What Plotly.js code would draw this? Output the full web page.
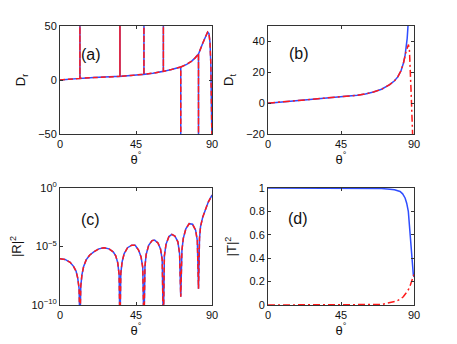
<!DOCTYPE html>
<html>
<head>
<meta charset="utf-8">
<script src="https://cdn.plot.ly/plotly-3.0.1.min.js"></script>
<style>
  html, body { margin: 0; padding: 0; background: #fff; }
  #chart { width: 457px; height: 344px; }
</style>
</head>
<body>
<div id="chart"></div>
<script>
// (a) reflected delay D_r, with resonance spikes running off the axis
const thetaA = [0, 5, 11.8, 11.8, 11.8, 20, 30, 35.5, 35.5, 35.5, 42, 49.7, 49.7, 49.7, 55, 61.2, 61.2, 61.2,
  66, 71.5, 71.5, 71.5, 75, 78, 80, 82, 82, 82, 84.5, 86.5, 87.4, 88.2, 88.8, 89.3, 89.7, 90];
const drA = [0, 0.6, 1.5, 90, 1.5, 2.2, 3, 3.4, 90, 3.4, 4.2, 5.3, 90, 5.3, 6.3, 8, 90, 8,
  9.7, 12, -90, 12, 14.5, 17.5, 20.5, 24, -90, 24, 34, 41.5, 44.4, 43, 35, 15, -20, -60];

// (b) transmitted delay D_t
const thetaB = [0, 10, 20, 30, 40, 45, 50, 55, 60, 65, 70, 75, 78, 80, 82, 83.5, 84.5, 85.2, 85.8, 86.3, 86.6];
const dtB = [0, 0.9, 1.8, 2.6, 3.4, 3.8, 4.4, 5.1, 6, 7.2, 9, 12, 14.5, 17, 21, 26, 31, 36, 42, 50, 56];
const thetaB2 = [0, 10, 20, 30, 40, 45, 50, 55, 60, 65, 70, 75, 78, 80, 82, 83.5, 85, 86, 86.6, 87.2, 87.8, 88.3, 88.8, 89.2];
const dtB2 = [0, 0.9, 1.8, 2.6, 3.4, 3.8, 4.4, 5.1, 6, 7.2, 9, 12, 14.5, 17, 21, 26, 33, 37, 38, 34, 22, 5, -10, -22];

// (c) reflectance |R|^2 (log scale)
const thetaC = [0, 3, 6, 8, 9.5, 10.5, 11.3, 11.8, 12.3, 13, 14, 15.5, 17.5, 20, 23, 26, 29, 31.5, 33, 34.2, 35, 35.5,
  36, 36.8, 38, 40, 42.5, 44.5, 46.5, 48, 49, 49.7, 50.3, 51, 52.5, 54.5, 56, 58, 59.5, 60.5, 61.2,
  61.8, 62.8, 64.5, 66.2, 68, 69.8, 70.8, 71.5, 72.2, 73, 74.5, 76.5, 78.5, 80.3, 81.3, 82,
  82.6, 83.2, 84.5, 86, 87.8, 90];
const rC = [8.9e-7, 7.9e-7, 4.5e-7, 2.0e-7, 7.9e-8, 2.0e-8, 2.5e-9, 1e-12, 4.0e-9, 4.0e-8, 2.0e-7, 7.1e-7, 1.8e-6, 3.5e-6, 6.3e-6, 7.9e-6, 6.3e-6, 3.5e-6, 1.6e-6, 4.0e-7, 4.0e-8, 1e-12,
  5.0e-8, 5.0e-7, 2.5e-6, 7.9e-6, 1.3e-5, 1.26e-5, 5.0e-6, 1.26e-6, 1.6e-7, 1e-12, 2.0e-7, 2.0e-6, 1.26e-5, 3.2e-5, 3.5e-5, 2.0e-5, 6.3e-6, 7.9e-7, 1e-12,
  1.6e-6, 1.6e-5, 7.1e-5, 1.07e-4, 7.9e-5, 2.5e-5, 2.5e-6, 5.0e-10, 5.0e-6, 5.0e-5, 3.2e-4, 8.9e-4, 7.9e-4, 2.5e-4, 3.2e-5, 2.5e-9,
  5.0e-5, 5.0e-4, 3.2e-3, 1.26e-2, 6.3e-2, 0.25];

// (d) transmittance |T|^2
const thetaD = [0, 30, 60, 70, 75.2, 78, 81.4, 83, 84.5, 85.5, 86.5, 87.5, 88.2, 89, 89.6, 90];
const tD = [1, 1, 0.998, 0.995, 0.99, 0.985, 0.97, 0.95, 0.915, 0.87, 0.8, 0.6, 0.455, 0.31, 0.255, 0.24];
const thetaD2 = [0, 30, 60, 70, 73.1, 76, 79.3, 81.5, 83.4, 85, 86.5, 87.6, 88.6, 89.6, 90];
const tD2 = [0, 0, 0, 0.004, 0.014, 0.022, 0.034, 0.05, 0.07, 0.1, 0.13, 0.165, 0.2, 0.245, 0.26];

const blue = '#2f4dff';
const red = '#ff1a1a';
const dashed = '5px,3px';
const dashdot = '7px,3px,2px,3px';
const fontFam = 'Liberation Sans, Arial, sans-serif';

const traces = [
  { x: thetaA, y: drA, xaxis: 'x', yaxis: 'y', mode: 'lines', line: { color: blue, width: 1.5 } },
  { x: thetaA, y: drA, xaxis: 'x', yaxis: 'y', mode: 'lines', line: { color: red, width: 1.5, dash: dashed } },
  { x: thetaB, y: dtB, xaxis: 'x2', yaxis: 'y2', mode: 'lines', line: { color: blue, width: 1.5 } },
  { x: thetaB2, y: dtB2, xaxis: 'x2', yaxis: 'y2', mode: 'lines', line: { color: red, width: 1.5, dash: dashdot } },
  { x: thetaC, y: rC, xaxis: 'x3', yaxis: 'y3', mode: 'lines', line: { color: blue, width: 1.5 } },
  { x: thetaC, y: rC, xaxis: 'x3', yaxis: 'y3', mode: 'lines', line: { color: red, width: 1.5, dash: dashed } },
  { x: thetaD, y: tD, xaxis: 'x4', yaxis: 'y4', mode: 'lines', line: { color: blue, width: 1.5 } },
  { x: thetaD2, y: tD2, xaxis: 'x4', yaxis: 'y4', mode: 'lines', line: { color: red, width: 1.5, dash: dashdot } }
];

function xAx(domain, anchor) {
  return {
    domain: domain, anchor: anchor, range: [0, 90], tickvals: [0, 45, 90],
    showgrid: false, zeroline: false, showline: true, mirror: 'allticks',
    linecolor: '#333', linewidth: 1, ticks: 'inside', ticklen: 3, tickcolor: '#333',
    tickfont: { size: 11, color: '#111' },
    title: { text: 'θ<sup>°</sup>', font: { size: 13, color: '#111' }, standoff: 5 }
  };
}
function yAx(domain, anchor, range, ticks, label) {
  return {
    domain: domain, anchor: anchor, range: range, tickvals: ticks,
    showgrid: false, zeroline: false, showline: true, mirror: 'allticks',
    linecolor: '#333', linewidth: 1, ticks: 'inside', ticklen: 3, tickcolor: '#333',
    tickfont: { size: 11, color: '#111' },
    title: { text: label, font: { size: 13, color: '#111' }, standoff: 9 }
  };
}

const colL = [0, 0.4294], colR = [0.5876, 1];
const rowT = [0.6129, 1], rowB = [0, 0.4194];

const yC = yAx(rowB, 'x3', [-10, 0], [1e-10, 1e-5, 1], '|R|<sup>2</sup>');
yC.type = 'log';
yC.ticktext = ['10<sup>−10</sup>', '10<sup>−5</sup>', '10<sup>0</sup>'];
yC.title.standoff = 6;

const layout = {
  width: 457, height: 344,
  margin: { l: 60, r: 43, t: 26, b: 39 },
  paper_bgcolor: '#fff', plot_bgcolor: '#fff',
  font: { family: fontFam, color: '#111' },
  showlegend: false,
  xaxis: xAx(colL, 'y'),
  yaxis: yAx(rowT, 'x', [-50, 50], [-50, 0, 50], 'D<sub>r</sub>'),
  xaxis2: xAx(colR, 'y2'),
  yaxis2: yAx(rowT, 'x2', [-20, 50], [-20, 0, 20, 40], 'D<sub>t</sub>'),
  xaxis3: xAx(colL, 'y3'),
  yaxis3: yC,
  xaxis4: xAx(colR, 'y4'),
  yaxis4: yAx(rowB, 'x4', [0, 1], [0, 0.2, 0.4, 0.6, 0.8, 1], '|T|<sup>2</sup>'),
  annotations: [
    { text: '(a)', xref: 'x domain', yref: 'y domain', x: 0.125, y: 0.74, xanchor: 'left', yanchor: 'middle', showarrow: false, font: { size: 16 } },
    { text: '(b)', xref: 'x2 domain', yref: 'y2 domain', x: 0.13, y: 0.75, xanchor: 'left', yanchor: 'middle', showarrow: false, font: { size: 16 } },
    { text: '(c)', xref: 'x3 domain', yref: 'y3 domain', x: 0.125, y: 0.727, xanchor: 'left', yanchor: 'middle', showarrow: false, font: { size: 16 } },
    { text: '(d)', xref: 'x4 domain', yref: 'y4 domain', x: 0.123, y: 0.735, xanchor: 'left', yanchor: 'middle', showarrow: false, font: { size: 16 } }
  ]
};

Plotly.newPlot('chart', traces, layout, { displayModeBar: false, staticPlot: true });
</script>
</body>
</html>
